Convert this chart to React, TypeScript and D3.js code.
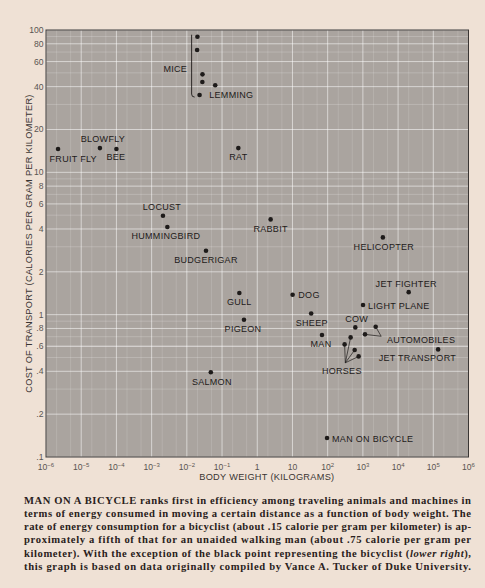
import React from "react";
import * as d3 from "d3";

// ---- data (body weight in kg, cost of transport in cal / g / km) ----
const names = [
  "FRUIT FLY", "BLOWFLY", "BEE", "LOCUST", "HUMMINGBIRD", "BUDGERIGAR", "SALMON",
  "LEMMING", "RAT", "GULL", "PIGEON", "RABBIT", "DOG", "SHEEP", "MAN", "COW",
  "HELICOPTER", "LIGHT PLANE", "JET FIGHTER", "JET TRANSPORT", "MAN ON BICYCLE",
];
const weights = [
  2.2e-6, 3.4e-5, 1.0e-4, 2.1e-3, 2.8e-3, 0.035, 0.048,
  0.023, 0.29, 0.31, 0.42, 2.4, 10.1, 34, 69, 610,
  3700, 1010, 20000, 137000, 96,
];
const costs = [
  14.6, 14.8, 14.6, 4.95, 4.13, 2.81, 0.394,
  34.9, 14.8, 1.42, 0.92, 4.67, 1.38, 1.02, 0.72, 0.814,
  3.49, 1.17, 1.44, 0.57, 0.136,
];
const miceWeights = [0.02, 0.0196, 0.0278, 0.0276, 0.064];
const miceCosts = [89.7, 72.4, 48.8, 43.1, 40.9];
const horseWeights = [449, 303, 584, 758];
const horseCosts = [0.692, 0.618, 0.564, 0.509];
const autoWeights = [2310, 1150];
const autoCosts = [0.822, 0.727];

const yTickValues = [100, 80, 60, 40, 20, 10, 8, 6, 4, 2, 1, 0.8, 0.6, 0.4, 0.2, 0.1];
const yTickLabels = ["100", "80", "60", "40", "20", "10", "8", "6", "4", "2", "1", ".8", ".6", ".4", ".2", ".1"];
const xExponents = [-6, -5, -4, -3, -2, -1, 0, 1, 2, 3, 4, 5, 6];

const captionLines = [
  [["MAN ON A BICYCLE ranks first in efficiency among traveling animals and machines in", false]],
  [["terms of energy consumed in moving a certain distance as a function of body weight. The", false]],
  [["rate of energy consumption for a bicyclist (about .15 calorie per gram per kilometer) is ap-", false]],
  [["proximately a fifth of that for an unaided walking man (about .75 calorie per gram per", false]],
  [["kilometer). With the exception of the black point representing the bicyclist (", false], ["lower right", true], ["),", false]],
  [["this graph is based on data originally compiled by Vance A. Tucker of Duke University.", false]],
] as [string, boolean][][];

// label placement relative to each point (layout only)
const labelLayout: Record<string, { a: string; dx: number; dy: number }> = {
  "FRUIT FLY": { a: "start", dx: -8.5, dy: 13 },
  BLOWFLY: { a: "middle", dx: 3, dy: -5.7 },
  BEE: { a: "middle", dx: -0.5, dy: 11.5 },
  LOCUST: { a: "middle", dx: -1, dy: -5.4 },
  HUMMINGBIRD: { a: "middle", dx: -1.5, dy: 12.3 },
  BUDGERIGAR: { a: "middle", dx: 0, dy: 12.6 },
  SALMON: { a: "middle", dx: 1, dy: 13 },
  LEMMING: { a: "start", dx: 9.7, dy: 3.2 },
  RAT: { a: "middle", dx: 0, dy: 12.3 },
  GULL: { a: "middle", dx: 0, dy: 12 },
  PIGEON: { a: "middle", dx: -1, dy: 12 },
  RABBIT: { a: "middle", dx: 0, dy: 12.7 },
  DOG: { a: "start", dx: 5.7, dy: 3.6 },
  SHEEP: { a: "middle", dx: 0.6, dy: 12.3 },
  MAN: { a: "middle", dx: -1, dy: 12.3 },
  COW: { a: "middle", dx: 1.3, dy: -5 },
  HELICOPTER: { a: "middle", dx: 1, dy: 12.7 },
  "LIGHT PLANE": { a: "start", dx: 5, dy: 3.8 },
  "JET FIGHTER": { a: "middle", dx: -2.5, dy: -5.4 },
  "JET TRANSPORT": { a: "end", dx: 18, dy: 12 },
  "MAN ON BICYCLE": { a: "start", dx: 5, dy: 3.6 },
};

const W = 485;
const H = 588;
const L = 46, R = 468.5, T = 30, B = 457;

export default function App() {
  const x = d3.scaleLog().domain([1e-6, 1e6]).range([L, R]);
  const y = d3.scaleLog().domain([0.1, 100]).range([B, T]);

  const bg = "#efe1d5";
  const plotFill = "#aaa49f";
  const ink = "#1e1b1a";
  const tickInk = "#5a5552";
  const labelFont = "'Liberation Sans', Arial, Helvetica, sans-serif";

  // grid values
  const yMinor: number[] = [];
  for (let e = -1; e <= 1; e++) for (let k = 1; k <= 9; k++) yMinor.push(k * Math.pow(10, e));
  const xMinor: number[] = [];
  for (let e = -6; e < 6; e++) for (const k of [2, 5]) xMinor.push(k * Math.pow(10, e));

  const bracketX = x(d3.min(miceWeights)!) - 5.5;
  const bracketTop = y(d3.max(miceCosts)!) - 2;
  const lemIdx = names.indexOf("LEMMING");
  const bracketBot = y(costs[lemIdx]) + 2;
  const miceLabelY = (bracketTop + bracketBot) / 2 + 6;

  const horseHubX = x(horseWeights[1]) + 0.7;
  const horseHubY = y(horseCosts[1]) + 18.4;
  const autoHubX = x(autoWeights[0]) + 5.5;
  const autoHubY = y(autoCosts[0]) + 9.5;

  const dot = (cx: number, cy: number, k: string) => (
    <circle key={k} cx={cx} cy={cy} r={2.3} fill={ink} />
  );

  return (
    <svg width={W} height={H} style={{ position: "absolute", left: 0, top: 0, display: "block" }}>
      <rect x={0} y={0} width={W} height={H} fill={bg} />
      {/* plot area */}
      <rect x={L} y={T} width={R - L} height={B - T} fill={plotFill} />
      {/* minor grid */}
      {yMinor.filter((v) => !yTickValues.includes(v)).map((v, i) => (
        <line key={"ym" + i} x1={L} x2={R} y1={y(v)} y2={y(v)} stroke="#fff" strokeOpacity={0.28} strokeWidth={0.7} />
      ))}
      {xMinor.map((v, i) => (
        <line key={"xm" + i} y1={T} y2={B} x1={x(v)} x2={x(v)} stroke="#fff" strokeOpacity={0.2} strokeWidth={0.7} />
      ))}
      {/* major grid */}
      {yTickValues.map((v, i) => (
        <line key={"yM" + i} x1={L} x2={R} y1={y(v)} y2={y(v)} stroke="#fff" strokeOpacity={0.6} strokeWidth={0.9} />
      ))}
      {xExponents.map((e) => (
        <line key={"xM" + e} y1={T} y2={B} x1={x(Math.pow(10, e))} x2={x(Math.pow(10, e))} stroke="#fff" strokeOpacity={0.6} strokeWidth={0.9} />
      ))}
      <rect x={L} y={T} width={R - L} height={B - T} fill="none" stroke="#3a3634" strokeWidth={1} />

      {/* y tick labels */}
      <g fontFamily={labelFont} fontSize={8.6} fill={tickInk}>
        {yTickValues.map((v, i) => (
          <text key={"yl" + i} x={L - 2.5} y={y(v) + 3} textAnchor="end">{yTickLabels[i]}</text>
        ))}
      </g>
      {/* x tick labels */}
      <g fontFamily={labelFont} fontSize={8.6} fill={tickInk}>
        {xExponents.map((e) => (
          <text key={"xl" + e} x={x(Math.pow(10, e))} y={470} textAnchor="middle">
            {e === 0 ? "1" : e === 1 ? "10" : (
              <>
                <tspan>10</tspan>
                <tspan fontSize={6} dy={-3}>{e < 0 ? "\u2212" + -e : String(e)}</tspan>
              </>
            )}
          </text>
        ))}
      </g>
      {/* axis titles */}
      <text x={(x(1e-1) + x(1e2)) / 2 - 8} y={480} textAnchor="middle" fontFamily={labelFont} fontSize={9.2} fill="#3a3533" letterSpacing={0.3}>
        BODY WEIGHT (KILOGRAMS)
      </text>
      <text transform={`translate(32,${(T + B) / 2}) rotate(-90)`} textAnchor="middle" fontFamily={labelFont} fontSize={9.2} fill="#3a3533" letterSpacing={0.3}>
        COST OF TRANSPORT (CALORIES PER GRAM PER KILOMETER)
      </text>

      {/* points */}
      {names.map((n, i) => dot(x(weights[i]), y(costs[i]), "p" + i))}
      {miceWeights.map((w, i) => dot(x(w), y(miceCosts[i]), "m" + i))}
      {horseWeights.map((w, i) => dot(x(w), y(horseCosts[i]), "h" + i))}
      {autoWeights.map((w, i) => dot(x(w), y(autoCosts[i]), "a" + i))}

      {/* connectors */}
      <path
        d={`M${bracketX},${bracketTop} V${bracketBot - 3} Q${bracketX},${bracketBot} ${bracketX + 3},${bracketBot}`}
        fill="none" stroke={ink} strokeWidth={0.9}
      />
      {horseWeights.map((w, i) => (
        <line key={"hl" + i} x1={horseHubX} y1={horseHubY} x2={x(w)} y2={y(horseCosts[i])} stroke={ink} strokeWidth={0.7} />
      ))}
      {autoWeights.map((w, i) => (
        <line key={"al" + i} x1={autoHubX} y1={autoHubY} x2={x(w)} y2={y(autoCosts[i])} stroke={ink} strokeWidth={0.7} />
      ))}

      {/* labels */}
      <g fontFamily={labelFont} fontSize={9} fill={ink} letterSpacing={0.3}>
        {names.map((n, i) => {
          const p = labelLayout[n];
          return (
            <text key={"t" + i} x={x(weights[i]) + p.dx} y={y(costs[i]) + p.dy} textAnchor={p.a as any}>{n}</text>
          );
        })}
        <text x={bracketX - 4.5} y={miceLabelY} textAnchor="end">MICE</text>
        <text x={horseHubX - 3.5} y={horseHubY + 11} textAnchor="middle">HORSES</text>
        <text x={x(autoWeights[0]) + 11.4} y={y(autoCosts[0]) + 16.6} textAnchor="start">AUTOMOBILES</text>
      </g>

      {/* caption */}
      <g fontFamily="'Liberation Serif', 'Times New Roman', serif" fontWeight="bold" fontSize={10.6} fill="#2a2120">
        {captionLines.map((parts, i) => (
          <text key={"c" + i} x={24} y={503.5 + i * 13.3} textLength={447} lengthAdjust="spacing">
            {parts.map(([s, it], j) => (
              <tspan key={j} fontStyle={it ? "italic" : "normal"}>{s}</tspan>
            ))}
          </text>
        ))}
      </g>
    </svg>
  );
}
